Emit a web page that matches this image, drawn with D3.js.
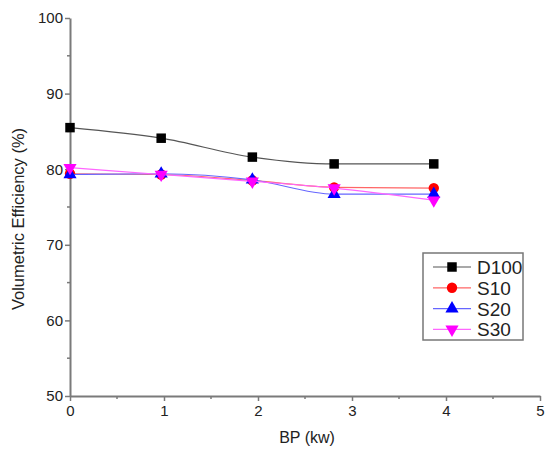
<!DOCTYPE html>
<html>
<head>
<meta charset="utf-8">
<script src="https://cdn.jsdelivr.net/npm/d3@7"></script>
<style>
body { margin: 0; background: #fff; }
svg { font-family: Arial, "Liberation Sans", sans-serif; }
</style>
</head>
<body>
<div id="chart"></div>
<script>
// data
const bp = [0, 0.97, 1.94, 2.81, 3.87]
const d100 = [85.5, 84.1, 81.6, 80.7, 80.7]
const s10 = [79.4, 79.3, 78.5, 77.6, 77.5]
const s20 = [79.3, 79.4, 78.6, 76.7, 76.7]
const s30 = [80.2, 79.3, 78.4, 77.5, 75.9]
const xTicks = [0, 1, 2, 3, 4, 5]
const yTicks = [50, 60, 70, 80, 90, 100]

const series = [
    {name: 'D100', values: d100, color: '#000', line: '#555', shape: 'square'},
    {name: 'S10', values: s10, color: '#ff0000', line: '#ff6666', shape: 'circle'},
    {name: 'S20', values: s20, color: '#0000ff', line: '#6666ff', shape: 'up'},
    {name: 'S30', values: s30, color: '#ff00ff', line: '#ff66ff', shape: 'down'}
]

const width = 547, height = 452
const x0 = 70, x1 = 540, y0 = 396, y1 = 18

var svg = d3.select('#chart').append('svg')
    .attr('width', width)
    .attr('height', height)

var x = d3.scaleLinear().domain([0, 5]).range([x0, x1])
var y = d3.scaleLinear().domain([50, 100]).range([y0, y1])

// axes
var axisColor = '#7a7a7a'
var xAxis = svg.append('g').attr('transform', `translate(0,${y0})`)
    .call(d3.axisBottom(x).tickValues(xTicks).tickFormat(d3.format('d')).tickSize(5).tickSizeOuter(0).tickPadding(4))
var yAxis = svg.append('g').attr('transform', `translate(${x0},0)`)
    .call(d3.axisLeft(y).tickValues(yTicks).tickFormat(d3.format('d')).tickSize(5).tickSizeOuter(0).tickPadding(2))

;[xAxis, yAxis].forEach(function(a) {
    a.select('.domain').attr('stroke', axisColor).attr('stroke-width', 2)
    a.selectAll('.tick line').attr('stroke', axisColor).attr('stroke-width', 1.5)
    a.selectAll('.tick text').attr('fill', '#222').style('font-size', '15px')
})

// minor ticks
svg.append('g').selectAll('line')
    .data(d3.range(0.5, 5, 1))
    .join('line')
    .attr('x1', d => x(d)).attr('x2', d => x(d))
    .attr('y1', y0).attr('y2', y0 + 3)
    .attr('stroke', axisColor).attr('stroke-width', 1.5)
svg.append('g').selectAll('line')
    .data(d3.range(55, 100, 10))
    .join('line')
    .attr('x1', x0).attr('x2', x0 - 3)
    .attr('y1', d => y(d)).attr('y2', d => y(d))
    .attr('stroke', axisColor).attr('stroke-width', 1.5)

svg.append('text')
    .attr('x', (x0 + x1) / 2 + 2)
    .attr('y', 443)
    .attr('text-anchor', 'middle')
    .style('font-size', '16px')
    .attr('fill', '#222')
    .text('BP (kw)')

svg.append('text')
    .attr('transform', `translate(24,${(y0 + y1) / 2 + 12}) rotate(-90)`)
    .attr('text-anchor', 'middle')
    .style('font-size', '16.5px')
    .attr('fill', '#222')
    .text('Volumetric Efficiency (%)')

// markers
function symbolFor(shape)
{
    if (shape == 'square') return d3.symbol().type(d3.symbolSquare).size(90)
    if (shape == 'circle') return d3.symbol().type(d3.symbolCircle).size(85)
    return d3.symbol().type(d3.symbolTriangle).size(75)
}

var line = d3.line()
    .x(d => x(d[0]))
    .y(d => y(d[1]))
    .curve(d3.curveMonotoneX)

series.forEach(function(s) {
    var pts = bp.map((b, i) => [b, s.values[i]])
    svg.append('path')
        .datum(pts)
        .attr('fill', 'none')
        .attr('stroke', s.line)
        .attr('stroke-width', 1.2)
        .attr('d', line)
    svg.append('g').selectAll('path')
        .data(pts)
        .join('path')
        .attr('d', symbolFor(s.shape)())
        .attr('transform', d => `translate(${x(d[0])},${y(d[1])})` + (s.shape == 'down' ? ' rotate(180)' : ''))
        .attr('fill', s.color)
})

// legend
var legend = svg.append('g')
svg.append('rect')
    .attr('x', 423).attr('y', 253)
    .attr('width', 100).attr('height', 87)
    .attr('fill', 'none')
    .attr('stroke', '#777')
    .attr('stroke-width', 1.5)
series.forEach(function(s, i) {
    var ly = 267 + i * 20.8
    legend.append('line')
        .attr('x1', 433).attr('x2', 471)
        .attr('y1', ly).attr('y2', ly)
        .attr('stroke', s.line).attr('stroke-width', 1.2)
    legend.append('path')
        .attr('d', symbolFor(s.shape)())
        .attr('transform', `translate(452,${ly})` + (s.shape == 'down' ? ' rotate(180)' : ''))
        .attr('fill', s.color)
    legend.append('text')
        .attr('x', 477).attr('y', ly + 7)
        .style('font-size', '19px')
        .attr('fill', '#222')
        .text(s.name)
})
</script>
</body>
</html>
